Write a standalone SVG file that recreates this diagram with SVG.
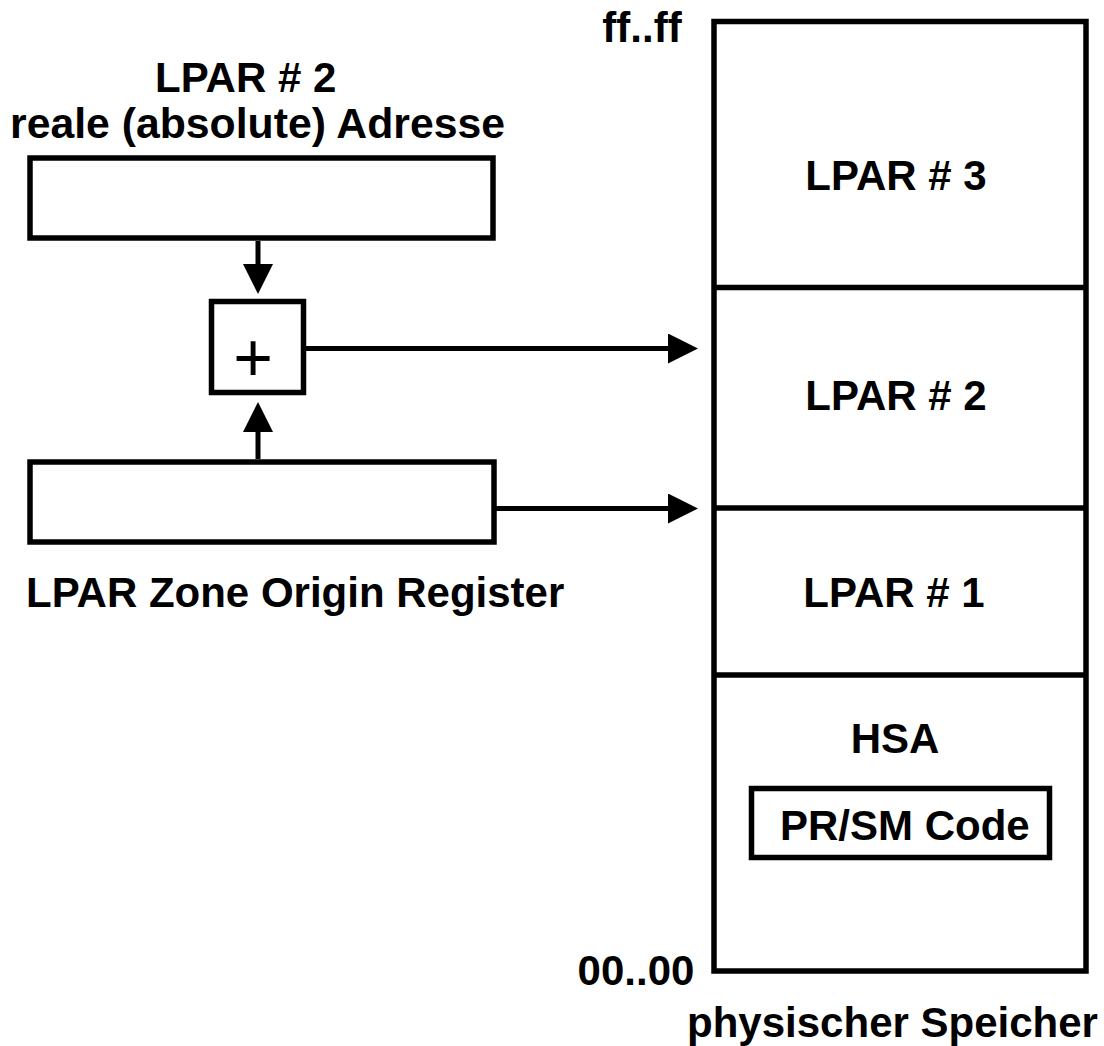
<svg xmlns="http://www.w3.org/2000/svg" width="1104" height="1046" viewBox="0 0 1104 1046">
<style>
  .box{fill:#fff;stroke:#000;stroke-width:5.5}
  .ln{fill:none;stroke:#000;stroke-width:5.5}
  .conn{fill:none;stroke:#000;stroke-width:5}
  .t{font-family:"Liberation Sans",Arial,Helvetica,sans-serif;font-weight:bold;font-size:42px;fill:#000}
  .plus{font-family:"Liberation Sans",Arial,Helvetica,sans-serif;font-weight:normal;font-size:68px;fill:#000}
</style>
<defs>
  <marker id="ah" viewBox="0 0 30 30" refX="20" refY="15" markerWidth="30" markerHeight="30" markerUnits="userSpaceOnUse" orient="auto">
    <path d="M0,0 L30,15 L0,30 Z" fill="#000"/>
  </marker>
</defs>
<rect width="1104" height="1046" fill="#fff"/>

<g id="title">
  <text class="t" x="155" y="92">LPAR # 2</text>
  <text class="t" x="257.5" y="138" text-anchor="middle" textLength="495" lengthAdjust="spacingAndGlyphs">reale (absolute) Adresse</text>
</g>

<g id="real-address-register">
  <rect class="box" x="30" y="158" width="463" height="80"/>
</g>

<g id="adder">
  <rect class="box" x="211.5" y="301.5" width="92" height="91"/>
  <text class="plus" x="253" y="380.5" text-anchor="middle">+</text>
</g>

<g id="zone-origin-register">
  <rect class="box" x="30" y="462" width="464" height="80"/>
  <text class="t" x="26" y="607">LPAR Zone Origin Register</text>
</g>

<g id="physical-memory">
  <rect class="box" x="714" y="21.5" width="372" height="949.5"/>
  <line class="ln" x1="714" y1="287.5" x2="1086" y2="287.5"/>
  <line class="ln" x1="714" y1="508" x2="1086" y2="508"/>
  <line class="ln" x1="714" y1="675" x2="1086" y2="675"/>
  <text class="t" x="642" y="42" text-anchor="middle">ff..ff</text>
  <text class="t" x="636" y="985" text-anchor="middle">00..00</text>
  <text class="t" x="892.5" y="1037" text-anchor="middle">physischer Speicher</text>
</g>

<g id="lpar3"><text class="t" x="896" y="190" text-anchor="middle">LPAR # 3</text></g>
<g id="lpar2"><text class="t" x="896" y="410" text-anchor="middle">LPAR # 2</text></g>
<g id="lpar1"><text class="t" x="894" y="607" text-anchor="middle">LPAR # 1</text></g>
<g id="hsa">
  <text class="t" x="895" y="753" text-anchor="middle">HSA</text>
  <rect class="box" x="751.5" y="788.5" width="298" height="69"/>
  <text class="t" x="780" y="840">PR/SM Code</text>
</g>

<g id="connectors">
  <line class="conn" x1="258" y1="241" x2="258" y2="284" marker-end="url(#ah)"/>
  <line class="conn" x1="258" y1="459" x2="258" y2="412" marker-end="url(#ah)"/>
  <line class="conn" x1="306" y1="348.5" x2="688" y2="348.5" marker-end="url(#ah)"/>
  <line class="conn" x1="496" y1="508.5" x2="688" y2="508.5" marker-end="url(#ah)"/>
</g>
</svg>
